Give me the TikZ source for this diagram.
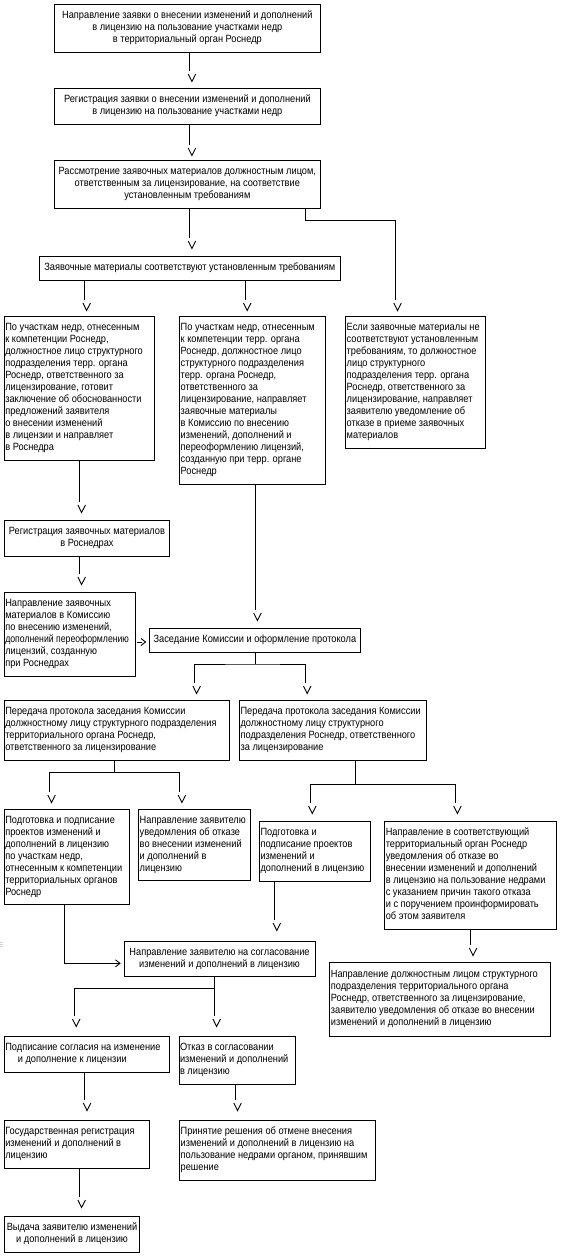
\documentclass[tikz,border=0pt]{standalone}
\usepackage{fontspec}
\setmainfont{Liberation Sans}[FakeStretch=0.88]
\newcommand\LT[2]{\makebox[\dimexpr#1pt-2pt\relax][l]{\begin{tabular}{@{}l@{}}#2\end{tabular}}}
\newcommand\CT[2]{\makebox[\dimexpr#1pt-2pt\relax][c]{\begin{tabular}{@{}c@{}}#2\end{tabular}}}
\tikzset{
  box/.style={draw, line width=0.9pt, anchor=north west, inner xsep=1pt, inner ysep=0pt,
    outer sep=0pt, font=\fontsize{10.5}{12}\selectfont},
  wh/.style 2 args={minimum width=#1pt, minimum height=#2pt},
  conn/.style={line width=0.9pt},
  vtip/.pic={\draw[line width=0.9pt] (-1.5,3) -- (2.2,10.5) -- (6,3);},
  gtip/.pic={\draw[line width=0.9pt] (-4.5,-3.5) -- (0,0) -- (-4.5,3.5);}
}
\begin{document}
\begin{tikzpicture}[x=1pt,y=-1pt]
\fill[white] (0,0) rectangle (562,1258);
\useasboundingbox (0,0) rectangle (562,1258);

% boxes
\node[box, wh={265.3}{48}] (b1) at (54.7,4.3) {\CT{265.3}{Направление заявки о внесении изменений и дополнений\\в лицензию на пользование участками недр\\в территориальный орган Роснедр}};
\node[box, wh={265.3}{36}] (b2) at (54.7,88.3) {\CT{265.3}{Регистрация заявки о внесении изменений и дополнений\\в лицензию на пользование участками недр}};
\node[box, wh={265.3}{48}] (b3) at (54.7,160.3) {\CT{265.3}{Рассмотрение заявочных материалов должностным лицом,\\ответственным за лицензирование, на соответствие\\установленным требованиям}};
\node[box, wh={300.5}{24}] (b4) at (39.5,256.3) {\CT{300.5}{Заявочные материалы соответствуют установленным требованиям}};
\node[box, wh={150.6}{144.3}] (b5) at (4.3,316) {\LT{150.6}{По участкам недр, отнесенным\\к компетенции Роснедр,\\должностное лицо структурного\\подразделения терр. органа\\Роснедр, ответственного за\\лицензирование, готовит\\заключение об обоснованности\\предложений заявителя\\о внесении изменений\\в лицензии и направляет\\в Роснедра}};
\node[box, wh={145.9}{168.3}] (b6) at (179.7,316) {\LT{145.9}{По участкам недр, отнесенным\\к компетенции терр. органа\\Роснедр, должностное лицо\\структурного подразделения\\терр. органа Роснедр,\\ответственного за\\лицензирование, направляет\\заявочные материалы\\в Комиссию по внесению\\изменений, дополнений и\\переоформлению лицензий,\\созданную при терр. органе\\Роснедр}};
\node[box, wh={139.7}{132}] (b7) at (345.7,316) {\LT{139.7}{Если заявочные материалы не\\соответствуют установленным\\требованиям, то должностное\\лицо структурного\\подразделения терр. органа\\Роснедр, ответственного за\\лицензирование, направляет\\заявителю уведомление об\\отказе в приеме заявочных\\материалов}};
\node[box, wh={165.3}{36}] (b8) at (4.3,520.3) {\CT{165.3}{Регистрация заявочных материалов\\в Роснедрах}};
\node[box, wh={130.8}{84}] (b9) at (4.3,592.3) {\LT{130.8}{Направление заявочных\\материалов в Комиссию\\по внесению изменений,\\\scalebox{0.94}[1]{дополнений переоформлению}\\лицензий, созданную\\при Роснедрах}};
\node[box, wh={210.2}{24}] (b10) at (149.8,628.3) {\CT{210.2}{Заседание Комиссии и оформление протокола}};
\node[box, wh={225}{59.3}] (b11) at (4.3,700.7) {\LT{225}{Передача протокола заседания Комиссии\\должностному лицу структурного подразделения\\территориального органа Роснедр,\\ответственного за лицензирование}};
\node[box, wh={187.3}{59.3}] (b12) at (239.6,700.7) {\LT{187.3}{Передача протокола заседания Комиссии\\должностному лицу структурного\\подразделения Роснедр, ответственного\\за лицензирование}};
\node[box, wh={125}{95}] (b13) at (4.3,809.3) {\LT{125}{Подготовка и подписание\\проектов изменений и\\дополнений в лицензию\\по участкам недр,\\отнесенным к компетенции\\территориальных органов\\Роснедр}};
\node[box, wh={111.7}{70.7}] (b14) at (138.7,809.3) {\LT{111.7}{Направление заявителю\\уведомления об отказе\\во внесении изменений\\и дополнений в\\лицензию}};
\node[box, wh={110.5}{60}] (b15) at (259.5,821) {\LT{110.5}{Подготовка и\\подписание проектов\\изменений и\\дополнений в лицензию}};
\node[box, wh={171.8}{108}] (b16) at (384.8,821) {\LT{171.8}{Направление в соответствующий\\территориальный орган Роснедр\\уведомления об отказе во\\внесении изменений и дополнений\\в лицензию на пользование недрами\\с указанием причин такого отказа\\и с поручением проинформировать\\об этом заявителя}};
\node[box, wh={220.6}{74}] (b17) at (329.9,962) {\LT{220.6}{Направление должностным лицом структурного\\подразделения территориального органа\\Роснедр, ответственного за лицензирование,\\заявителю уведомления об отказе во внесении\\изменений и дополнений в лицензию}};
\node[box, wh={191.1}{35.7}] (b18) at (124,941) {\CT{191.1}{Направление заявителю на согласование\\изменений и дополнений в лицензию}};
\node[box, wh={165.3}{36.7}] (b19) at (4.3,1036) {\LT{165.3}{Подписание согласия на изменение\\\hspace*{12.5pt}и дополнение к лицензии}};
\node[box, wh={116.4}{48.3}] (b20) at (179,1036) {\LT{116.4}{Отказ в согласовании\\изменений и дополнений\\в лицензию}};
\node[box, wh={145.5}{48}] (b21) at (4.3,1120.3) {\LT{145.5}{Государственная регистрация\\изменений и дополнений в\\лицензию}};
\node[box, wh={195.4}{60}] (b22) at (179.7,1120.3) {\LT{195.4}{Принятие решения об отмене внесения\\изменений и дополнений в лицензию на\\пользование недрами органом, принявшим\\решение}};
\node[box, wh={135.5}{36.3}] (b23) at (4.3,1216) {\CT{135.5}{Выдача заявителю изменений\\и дополнений в лицензию}};

% connector end points
\coordinate (e1) at (189.7,71);
\coordinate (e2) at (189.7,145);
\coordinate (e3) at (189.7,238);
\coordinate (k7) at (305,220);
\coordinate (e7) at (395.3,300);
\coordinate (e5) at (84.4,300);
\coordinate (e6) at (245,300);
\coordinate (e8) at (79.4,502);
\coordinate (e9) at (79.4,574);
\coordinate (e10) at (255.2,610);
\coordinate (s9) at (137,642);
\coordinate (t9) at (145.5,642);
\coordinate (j10) at (255.2,664);
\coordinate (e11) at (194.4,683);
\coordinate (e12) at (305,683);
\coordinate (j11) at (114.6,772);
\coordinate (e13) at (49.3,792);
\coordinate (e14) at (179.7,792);
\coordinate (j12) at (355.4,784);
\coordinate (e15) at (310.1,803);
\coordinate (e16) at (455.2,803);
\coordinate (e18) at (274.6,920);
\coordinate (e17) at (470.8,945);
\coordinate (k13) at (64.5,963.3);
\coordinate (t13) at (120,963.3);
\coordinate (j18) at (214.4,988.3);
\coordinate (e19) at (74,1016);
\coordinate (e20) at (214.4,1016);
\coordinate (e21) at (84.8,1100);
\coordinate (e22) at (235.3,1100);
\coordinate (e23) at (79.4,1197);

% connectors
\draw[conn] (b1.south -| e1) -- (e1);
\draw[conn] (b2.south -| e2) -- (e2);
\draw[conn] (b3.south -| e3) -- (e3);
\draw[conn] (b3.south -| k7) -- (k7) -| (e7);
\draw[conn] (b4.south -| e5) -- (e5);
\draw[conn] (b4.south -| e6) -- (e6);
\draw[conn] (b5.south -| e8) -- (e8);
\draw[conn] (b8.south -| e9) -- (e9);
\draw[conn] (b6.south -| e10) -- (e10);
\draw[conn] (s9) -- ++(4.5,0);
\draw[conn] (b10.south -| j10) -- (j10) (e11) |- (j10) -| (e12);
\draw[conn] (b11.south -| j11) -- (j11) (e13) |- (j11) -| (e14);
\draw[conn] (b12.south -| j12) -- (j12) (e15) |- (j12) -| (e16);
\draw[conn] (b15.south -| e18) -- (e18);
\draw[conn] (b16.south -| e17) -- (e17);
\draw[conn] (b13.south -| k13) -- (k13) -- (t13);
\draw[conn] (b18.south -| j18) -- (j18) (e19) |- (j18) -- (e20);
\draw[conn] (b19.south -| e21) -- (e21);
\draw[conn] (b20.south -| e22) -- (e22);
\draw[conn] (b21.south -| e23) -- (e23);

% arrow heads
\foreach \p in {e1,e2,e3,e7,e5,e6,e8,e9,e10,e11,e12,e13,e14,e15,e16,e18,e17,e19,e20,e21,e22,e23}
  \pic at (\p) {vtip};
\pic at (t9) {gtip};
\pic at (t13) {gtip};

% small scan mark at the left edge
\foreach \yy in {942,944,946} \draw[gray!35, line width=0.6pt] (0,\yy) -- (2.5,\yy);
\end{tikzpicture}
\end{document}
